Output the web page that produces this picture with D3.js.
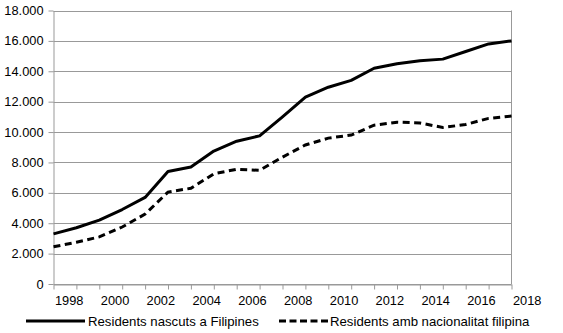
<!DOCTYPE html>
<html>
<head>
<meta charset="utf-8">
<script src="https://cdn.jsdelivr.net/npm/d3@7"></script>
<style>
  html, body { margin: 0; padding: 0; background: #fff; }
  svg { display: block; font-family: "Liberation Sans", Arial, sans-serif; }
</style>
</head>
<body>
<script>
const years = [1998,1999,2000,2001,2002,2003,2004,2005,2006,2007,2008,2009,2010,2011,2012,2013,2014,2015,2016,2017,2018];
const nascuts = [3300,3700,4200,4900,5700,7400,7700,8750,9400,9750,11000,12300,12950,13400,14200,14500,14700,14800,15300,15800,16000];
const nacionalitat = [2450,2750,3100,3750,4600,6050,6300,7250,7550,7480,8350,9150,9600,9800,10450,10650,10600,10300,10500,10900,11050];
const yTicks = [0,2000,4000,6000,8000,10000,12000,14000,16000,18000];
const xLabelYears = [1998,2000,2002,2004,2006,2008,2010,2012,2014,2016,2018];
const seriesNames = ["Residents nascuts a Filipines", "Residents amb nacionalitat filipina"];

const W = 563, H = 333;
const pLeft = 53.5, pRight = 511.5, pTop = 10.5, pBottom = 284;
const grid = "#999999";

const svg = d3.select("body").append("svg").attr("width", W).attr("height", H);

const x = d3.scalePoint().domain(years).range([pLeft, pRight]);
const y = d3.scaleLinear().domain([0, 18000]).range([pBottom, pTop]);

const fmt = v => d3.format(",")(v).replace(/,/g, ".");

// gridlines
svg.append("g").selectAll("line").data(yTicks).join("line")
  .attr("x1", pLeft).attr("x2", pRight)
  .attr("y1", d => Math.round(y(d)) + 0.5).attr("y2", d => Math.round(y(d)) + 0.5)
  .attr("stroke", grid).attr("stroke-width", 1);

// right border
svg.append("line").attr("x1", pRight).attr("x2", pRight).attr("y1", y(18000)).attr("y2", y(0))
  .attr("stroke", grid);

// y axis
const yAxis = svg.append("g").attr("transform", `translate(${pLeft},0)`)
  .call(d3.axisLeft(y).tickValues(yTicks).tickFormat(fmt).tickSize(5).tickSizeOuter(0).tickPadding(5));
yAxis.select(".domain").attr("stroke", grid);
yAxis.selectAll(".tick line").attr("stroke", grid);
yAxis.selectAll(".tick text").attr("fill", "#000").style("font-size", "12.8px")
  .style("font-family", '"Liberation Sans", Arial, sans-serif');

// x axis
const xAxis = svg.append("g").attr("transform", `translate(0,${Math.round(y(0)) + 0.5})`)
  .call(d3.axisBottom(x).tickValues(years).tickFormat(d => xLabelYears.includes(d) ? d : "").tickSize(5).tickSizeOuter(0).tickPadding(6));
xAxis.select(".domain").attr("stroke", grid);
xAxis.selectAll(".tick line").attr("stroke", grid);
xAxis.selectAll(".tick text").attr("fill", "#000").attr("text-anchor", "start").attr("x", 1)
  .style("font-size", "12.8px").style("font-family", '"Liberation Sans", Arial, sans-serif');

// lines
const line = d3.line().x((d, i) => x(years[i])).y(d => y(d));
svg.append("path").datum(nascuts).attr("d", line)
  .attr("fill", "none").attr("stroke", "#000").attr("stroke-width", 3).attr("stroke-linejoin", "round");
svg.append("path").datum(nacionalitat).attr("d", line)
  .attr("fill", "none").attr("stroke", "#000").attr("stroke-width", 3).attr("stroke-dasharray", "7,4.5");

// legend
const lg = svg.append("g");
lg.append("line").attr("x1", 26).attr("x2", 85).attr("y1", 321).attr("y2", 321)
  .attr("stroke", "#000").attr("stroke-width", 3);
lg.append("text").attr("x", 88).attr("y", 325.5).text(seriesNames[0])
  .style("font-size", "13.2px").attr("fill", "#000");
lg.append("line").attr("x1", 279).attr("x2", 328).attr("y1", 321).attr("y2", 321)
  .attr("stroke", "#000").attr("stroke-width", 3).attr("stroke-dasharray", "7,3.5");
lg.append("text").attr("x", 330).attr("y", 325.5).text(seriesNames[1])
  .style("font-size", "13.2px").attr("fill", "#000");
</script>
</body>
</html>
